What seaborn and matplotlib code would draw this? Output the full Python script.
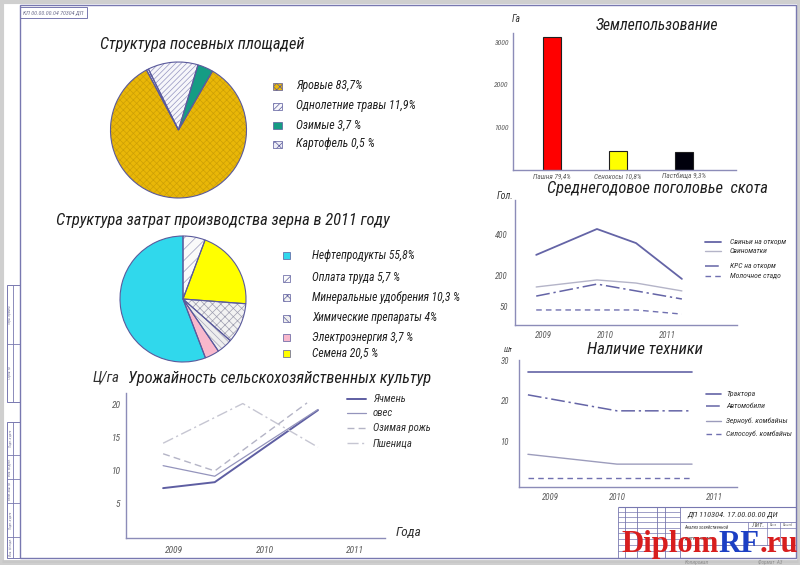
import matplotlib
matplotlib.use("Agg")
import matplotlib.pyplot as plt
import seaborn as sns
import pandas as pd
from matplotlib.patches import Rectangle

# ---------------- data ----------------
sown_labels = ["Яровые 83,7%", "Однолетние травы 11,9%", "Озимые 3,7 %", "Картофель 0,5 %"]
sown_values = [83.7, 11.9, 3.7, 0.5]

cost_labels = ["Нефтепродукты 55,8%", "Оплата труда 5,7 %", "Минеральные удобрения 10,3 %",
               "Химические препараты 4%", "Электроэнергия 3,7 %", "Семена 20,5 %"]
cost_values = [55.8, 5.7, 10.3, 4.0, 3.7, 20.5]

land_labels = ["Пашня 79,4%", "Сенокосы 10,8%", "Пастбища 9,3%"]
land_values = [3120, 440, 430]

livestock_names = ["Свиньи на откорм", "Свиноматки", "КРС на откорм", "Молочное стадо"]
livestock_x = [2008.89, 2009.87, 2010.5, 2011.24]
pigs = [300, 425, 357, 184]
sows = [145, 179, 164, 126]
cattle = [101, 159, 126, 87]
dairy = [34, 34, 34, 14]

tech_names = ["Трактора", "Автомобили", "Зерноуб. комбайны", "Силосоуб. комбайны"]
tech_x = [2008.67, 2010.0, 2011.12]
tractors = [27, 27, 27]
cars = [21.5, 17.6, 17.6]
grain_comb = [7.0, 4.6, 4.6]
silage_comb = [1.2, 1.2, 1.2]

yield_names = ["Ячмень", "овес", "Озимая рожь", "Пшеница"]
barley_x = [2008.88, 2009.45, 2010.59]
barley = [7.4, 8.3, 19.2]
oats_x = [2008.88, 2009.45, 2010.59]
oats = [10.8, 9.2, 19.3]
rye_x = [2008.88, 2009.45, 2010.47]
rye = [12.6, 10.0, 20.3]
wheat_x = [2008.88, 2009.76, 2010.59]
wheat = [14.2, 20.2, 13.6]

years = [2009, 2010, 2011]

# ---------------- style ----------------
sns.set_theme(style="white")
FONT = ["Roboto Condensed", "Roboto", "DejaVu Sans"]
plt.rcParams["font.family"] = FONT
plt.rcParams["font.style"] = "italic"
plt.rcParams["hatch.linewidth"] = 0.5

W, H = 800, 565
fig = plt.figure(figsize=(8, 5.65), dpi=100, facecolor="white")
renderer = fig.canvas.get_renderer()

FRAME = "#7878b0"
AXC = "#8c8cb8"
TXT = "#1e1e1e"
TICK = "#5a5a5a"
EDGE = "#5a5a9c"


def px_axes(x0, y0, x1, y1):
    a = fig.add_axes([x0 / W, 1 - y1 / H, (x1 - x0) / W, (y1 - y0) / H])
    a.set_facecolor("none")
    return a


def style_axes(a, size):
    sns.despine(ax=a)
    for s in ("left", "bottom"):
        a.spines[s].set_color(AXC)
        a.spines[s].set_linewidth(1.0)
    a.tick_params(length=0, labelsize=size, labelcolor=TICK)
    a.set_xlabel("")
    a.set_ylabel("")
    a.grid(False)


# ---------------- pies ----------------
sown_face = ["#E9B708", "#F6F6FA", "#159C84", "#EDEDF5"]
sown_hatch = ["xxxxx", "//////", None, "xxxx"]
sown_hc = ["#CDA006", "#9494c0", "#159C84", "#9494c0"]
sown_order = [2, 1, 3, 0]

cost_face = ["#30D8EC", "#FAFAFA", "#F2F2F2", "#EEEEEE", "#F8B8CC", "#FFFF00"]
cost_hatch = [None, "///", "xxxx", "\\\\\\\\\\", None, None]
cost_hc = ["#30D8EC", "#9a9abc", "#9e9eb0", "#a4a4b8", "#F8B8CC", "#FFFF00"]
cost_order = [1, 5, 2, 3, 4, 0]


def hatched_pie(a, values, faces, hatches, hcols, order, start, ccw):
    vals = [values[i] for i in order]
    wedges, _ = a.pie(vals, colors=[faces[i] for i in order], startangle=start,
                      counterclock=ccw, wedgeprops=dict(linewidth=0))
    for w, i in zip(wedges, order):
        if hatches[i]:
            w.set_hatch(hatches[i])
            w.set_edgecolor(hcols[i])
            w.set_linewidth(0)
    a.pie(vals, colors=["none"] * len(vals), startangle=start, counterclock=ccw,
          wedgeprops=dict(linewidth=0.8, edgecolor=EDGE, facecolor="none"))
    a.set_xlim(-1.03, 1.03)
    a.set_ylim(-1.03, 1.03)
    a.set_aspect("equal")


cx, cy, r = 178.5, 130, 68
ax1 = px_axes(cx - r * 1.03, cy - r * 1.03, cx + r * 1.03, cy + r * 1.03)
hatched_pie(ax1, sown_values, sown_face, sown_hatch, sown_hc, sown_order, 60, True)

cx, cy, r = 183, 299, 63
ax2 = px_axes(cx - r * 1.03, cy - r * 1.03, cx + r * 1.03, cy + r * 1.03)
hatched_pie(ax2, cost_values, cost_face, cost_hatch, cost_hc, cost_order, 90, False)

# ---------------- bar chart ----------------
axb = px_axes(513, 33, 736, 170)
land_colors = {"Пашня 79,4%": "#FF0000", "Сенокосы 10,8%": "#FFFF00", "Пастбища 9,3%": "#00000C"}
df_land = pd.DataFrame({"cat": land_labels, "val": land_values})
sns.barplot(data=df_land, x="cat", y="val", hue="cat", palette=land_colors, width=0.28,
            edgecolor="#202020", linewidth=0.8, ax=axb, legend=False, saturation=1)
axb.set_xlim(-0.59, 2.79)
axb.set_ylim(0, 3211)
axb.set_yticks([1000, 2000, 3000])
style_axes(axb, 5.5)
axb.tick_params(axis="x", pad=2, labelsize=5.2)
axb.tick_params(axis="y", pad=3)

# ---------------- livestock ----------------
axl = px_axes(515, 200, 737, 325)
ls_styles = [dict(color="#6464a6", lw=1.3, ls="-"),
             dict(color="#b4b4c8", lw=1.0, ls="-"),
             dict(color="#6464a6", lw=1.1, ls=(0, (9, 2.5, 1.5, 2.5))),
             dict(color="#7070b0", lw=1.0, ls=(0, (4, 3)))]
for ys, st in zip([pigs, sows, cattle, dairy], ls_styles):
    sns.lineplot(x=livestock_x, y=ys, ax=axl, color=st["color"], lw=st["lw"],
                 linestyle=st["ls"], errorbar=None, legend=False)
axl.set_xlim(2008.548, 2012.129)
axl.set_ylim(-38.6, 565)
axl.set_xticks(years)
axl.set_yticks([50, 200, 400])
style_axes(axl, 6.3)
axl.tick_params(axis="x", pad=4)
axl.tick_params(axis="y", pad=5)

# ---------------- technics ----------------
axt = px_axes(519, 360, 737, 487)
tech_styles = [dict(color="#6464a6", lw=1.2, ls="-"),
               dict(color="#6464a6", lw=1.1, ls=(0, (9, 2.5, 1.5, 2.5))),
               dict(color="#9c9cbc", lw=1.0, ls="-"),
               dict(color="#7070b0", lw=1.0, ls=(0, (4, 3)))]
for ys, st in zip([tractors, cars, grain_comb, silage_comb], tech_styles):
    sns.lineplot(x=tech_x, y=ys, ax=axt, color=st["color"], lw=st["lw"],
                 linestyle=st["ls"], errorbar=None, legend=False)
axt.set_xlim(2008.537, 2011.791)
axt.set_ylim(-0.98, 30.0)
axt.set_xticks([2009, 2010, 2011.46])
axt.set_xticklabels([str(y) for y in years])
axt.set_yticks([10, 20, 30])
style_axes(axt, 6.3)
axt.tick_params(axis="x", pad=4)
axt.tick_params(axis="y", pad=7)

# ---------------- yields ----------------
axy = px_axes(126, 393, 385, 538)
y_styles = [dict(color="#5e5ea2", lw=1.4, ls="-"),
            dict(color="#9494bc", lw=0.9, ls="-"),
            dict(color="#b4b4c6", lw=1.0, ls=(0, (5, 3))),
            dict(color="#c6c6d2", lw=1.0, ls=(0, (8, 2.5, 1.5, 2.5)))]
for xs, ys, st in zip([barley_x, oats_x, rye_x, wheat_x], [barley, oats, rye, wheat], y_styles):
    sns.lineplot(x=xs, y=ys, ax=axy, color=st["color"], lw=st["lw"],
                 linestyle=st["ls"], errorbar=None, legend=False)
axy.set_xlim(2008.470, 2011.331)
axy.set_ylim(-0.15, 21.8)
axy.set_xticks(years)
axy.set_yticks([5, 10, 15, 20])
style_axes(axy, 6.8)
axy.tick_params(axis="x", pad=6)
axy.tick_params(axis="y", pad=4)

# ---------------- overlay: frame, titles, legends ----------------
ov = fig.add_axes([0, 0, 1, 1], zorder=10)
ov.set_xlim(0, W)
ov.set_ylim(H, 0)
ov.axis("off")
ov.set_facecolor("none")
inv = ov.transData.inverted()


def T(x, y, s, size, ha="left", va="center", color=TXT, rot=0, **kw):
    return ov.text(x, y, s, fontsize=size, ha=ha, va=va, color=color, rotation=rot, **kw)


def width_px(t):
    return t.get_window_extent(renderer).width


def fit_group(texts, target):
    """scale a group of texts with one factor so the widest is `target` px wide"""
    wmax = max(width_px(t) for t in texts)
    k = target / wmax
    for t in texts:
        t.set_fontsize(t.get_fontsize() * k)


def L(xs, ys, color=FRAME, lw=0.8, **kw):
    ov.plot(xs, ys, color=color, lw=lw, solid_capstyle="butt", **kw)


# outer gray border and drawing frame
ov.add_patch(Rectangle((1.5, 1.5), W - 3, H - 3, fill=False, ec="#cfcfcf", lw=3))
L([2, 798], [561, 561], color="#c8c8c8", lw=2)
ov.add_patch(Rectangle((20, 5), 776, 553, fill=False, ec=FRAME, lw=1.0))
# top-left stamp
ov.add_patch(Rectangle((20, 7), 67, 11, fill=False, ec=FRAME, lw=0.7))
fit_group([T(53.5, 12.5, "КП 00.00.00.04 70304 ДП", 4, ha="center", color="#707090")], 60)

# left side stamps
for (y0, y1, divs, labs) in [(285, 402, [344], ["Перв. примен.", "Справ. №"]),
                             (422, 558, [455, 479, 503, 537],
                              ["Подп. и дата", "Инв. № дубл.", "Взам. инв. №", "Подп. и дата", "Инв. № подл."])]:
    ov.add_patch(Rectangle((7, y0), 13, y1 - y0, fill=False, ec=FRAME, lw=0.7))
    L([13, 13], [y0, y1], lw=0.6)
    edges = [y0] + divs + [y1]
    for d in divs:
        L([7, 20], [d, d], lw=0.6)
    for i, lab in enumerate(labs):
        T(10, (edges[i] + edges[i + 1]) / 2, lab, 2.4, ha="center", rot=90, color="#8080a0")

# title block
L([618, 796], [507, 507])
for x in [618, 625, 637, 657, 665, 680]:
    L([x, x], [507, 558], lw=0.6)
for y in [512, 517, 522, 528, 533, 539, 545, 551]:
    L([618, 680], [y, y], lw=0.5)
L([680, 796], [522, 522], lw=0.6)
L([680, 796], [545, 545], lw=0.6)
L([748, 796], [528, 528], lw=0.5)
for x in [748, 767, 780]:
    L([x, x], [522, 545], lw=0.5)
fit_group([T(733, 514.5, "ДП 110304. 17.00.00.00 ДИ", 6, ha="center", color="#303030")], 90)
fit_group([T(684, 527.5, "Анализ хозяйственной", 4.6, color="#404040"),
           T(684, 537.5, "деятельности", 4.6, color="#404040")], 44)
for x0, x1, s in [(748, 767, "Лит."), (767, 780, "Масса"), (780, 796, "Масштаб")]:
    fit_group([T((x0 + x1) / 2, 525, s, 3, ha="center", color="#707070")], (x1 - x0) - 6)
fit_group([T(697, 562.5, "Копировал", 3, ha="center", color="#909090")], 24)
fit_group([T(770, 562.5, "Формат  A3", 3, ha="center", color="#909090")], 24)

# watermark (pieces placed one after another, total width fitted)
wm_font = ["Liberation Serif", "DejaVu Serif"]
wm_parts = [("Diplom", "#D81E1E"), ("RF", "#1C3FC4"), (".ru", "#D81E1E")]


def place_wm(size):
    cur, out = 621, []
    for s, c in wm_parts:
        t = T(cur, 552, s, size, va="baseline", color=c, family=wm_font,
              style="normal", weight="bold")
        cur = inv.transform((t.get_window_extent(renderer).x1, 0))[0]
        out.append(t)
    return out, cur - 621


parts, total = place_wm(22)
for t in parts:
    t.remove()
parts, total = place_wm(22 * 177 / total)

# chart titles
for x, y, s, w in [(202.5, 45, "Структура посевных площадей", 205),
                   (222.5, 220, "Структура затрат производства зерна в 2011 году", 335),
                   (280, 378, "Урожайность сельскохозяйственных культур", 304),
                   (656.5, 25, "Землепользование", 123),
                   (657.5, 189, "Среднегодовое поголовье  скота", 221),
                   (645, 350, "Наличие техники", 116)]:
    fit_group([T(x, y, s, 12, ha="center")], w)

# axis unit labels
fit_group([T(516, 19, "Га", 8, ha="center", color="#303030")], 9)
fit_group([T(505, 196, "Гол.", 7, ha="center", color="#303030")], 17)
fit_group([T(508, 350, "Шт", 6, ha="center", color="#303030")], 9)
fit_group([T(106, 377, "Ц/га", 9.5, ha="center", color="#303030")], 27)
fit_group([T(408, 533, "Года", 9.5, ha="center", color="#303030")], 26)

# pie legends
grp = []
for i, lab in enumerate(sown_labels):
    y = [86, 106, 125, 144][i]
    ov.add_patch(Rectangle((273, y - 3.5), 9, 7, fc=sown_face[i], ec=EDGE, lw=0.5,
                           hatch=sown_hatch[i]))
    grp.append(T(296, y, lab, 9))
fit_group(grp, 120)
grp = []
for i, lab in enumerate(cost_labels):
    y = [255, 278, 297, 318, 337, 353][i]
    ov.add_patch(Rectangle((283, y - 3.5), 7, 7, fc=cost_face[i], ec=EDGE, lw=0.5,
                           hatch=cost_hatch[i]))
    grp.append(T(312, y, lab, 9))
fit_group(grp, 148)

# line legends
for names, styles, ys, x0, x1, tx, w in [
        (livestock_names, ls_styles, [242, 251, 266, 276], 705, 721, 730, 56),
        (tech_names, tech_styles, [394, 406, 421, 434], 706, 721, 726, 66),
        (yield_names, y_styles, [399, 413, 428, 443], 347, 366, 373, 58)]:
    grp = []
    for n, st, y in zip(names, styles, ys):
        ov.plot([x0, x1], [y, y], color=st["color"], lw=st["lw"], linestyle=st["ls"])
        grp.append(T(tx, y, n, 7, color="#303030"))
    fit_group(grp, w)

fig.savefig("out.png", dpi=100, facecolor="white")
